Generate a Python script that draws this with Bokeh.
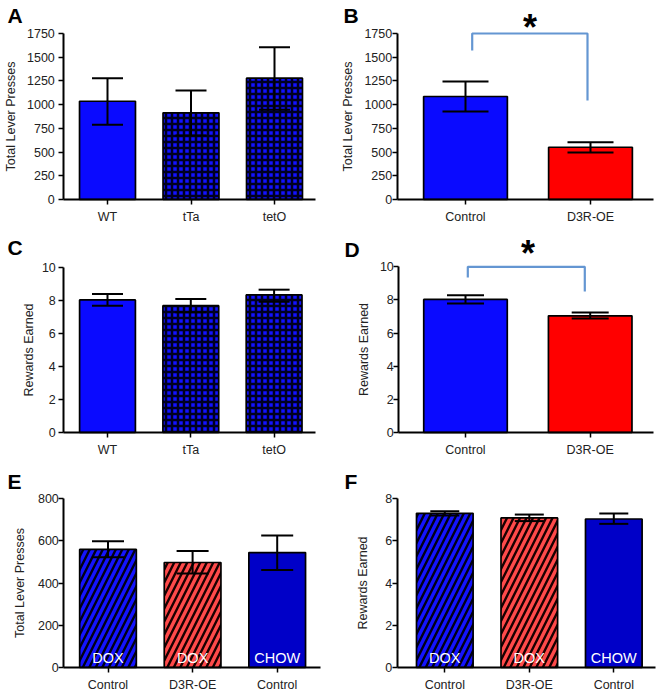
from bokeh.plotting import figure
from bokeh.models import ColumnDataSource, Whisker, TeeHead, Label, Range1d, FixedTicker
from bokeh.layouts import column, row
from bokeh.embed import file_html
from bokeh.resources import INLINE
from bokeh.core.properties import value

FONT = "Liberation Sans"

# ---------------- data ----------------
a_groups = ["WT", "tTa", "tetO"]
a_means = [1036, 914, 1279]
a_upper = [1279, 1149, 1606]
a_lower = [787, 675, 945]
a_yticks = [0, 250, 500, 750, 1000, 1250, 1500, 1750]

b_groups = ["Control", "D3R-OE"]
b_means = [1086, 551]
b_upper = [1244, 604]
b_lower = [928, 495]
b_yticks = [0, 250, 500, 750, 1000, 1250, 1500, 1750]
b_bracket_legs = [1571, 1044]   # bottom of left / right bracket legs
b_bracket_top = 1750

c_groups = ["WT", "tTa", "tetO"]
c_means = [8.02, 7.67, 8.32]
c_upper = [8.38, 8.08, 8.64]
c_lower = [7.67, 7.27, 7.91]
c_yticks = [0, 2, 4, 6, 8, 10]

d_groups = ["Control", "D3R-OE"]
d_means = [8.03, 7.04]
d_upper = [8.29, 7.24]
d_lower = [7.79, 6.88]
d_yticks = [0, 2, 4, 6, 8, 10]
d_bracket_legs = [9.35, 8.51]
d_bracket_top = 10

e_groups = ["Control", "D3R-OE", "Control"]
e_diet = ["DOX", "DOX", "CHOW"]
e_means = [559, 497, 544]
e_upper = [598, 552, 625]
e_lower = [522, 445, 462]
e_yticks = [0, 200, 400, 600, 800]

f_groups = ["Control", "D3R-OE", "Control"]
f_diet = ["DOX", "DOX", "CHOW"]
f_means = [7.30, 7.08, 7.03]
f_upper = [7.40, 7.24, 7.29]
f_lower = [7.19, 6.93, 6.80]
f_yticks = [0, 2, 4, 6, 8]

# ---------------- styles ----------------
BLUE = "#0a0aff"
RED = "#ff0000"
DOX_BLUE = "#1414ff"
DOX_RED = "#ff4a4a"
CHOW = "#0000c8"
BRACKET = "#6496d2"

style_plain_blue = dict(fill=BLUE, hatch=" ", hcol="black", hscale=6, hweight=1)
style_check = dict(fill="#1212ff", hatch="+", hcol="#000020", hscale=6, hweight=2.5)
style_red = dict(fill=RED, hatch=" ", hcol="black", hscale=6, hweight=1)
style_dox_blue = dict(fill=DOX_BLUE, hatch="/", hcol="#000018", hscale=13, hweight=2.4)
style_dox_red = dict(fill=DOX_RED, hatch="/", hcol="#1a0000", hscale=13, hweight=2.4)
style_chow = dict(fill=CHOW, hatch=" ", hcol="black", hscale=6, hweight=1)

# ---------------- geometry (pixels on the page) ----------------
GA = dict(canvas=(0, 0, 330, 230), yaxis=63.3, xend=315, zero=199, ytop=33, c0=107, sp=83.5,
          letter=(7, 14.5), cap=31, lstand=4, astand=6)
GB = dict(canvas=(330, 0, 333, 230), yaxis=396.7, xend=653.3, zero=199, ytop=33, c0=465, sp=125,
          letter=(343, 14.5), cap=46, lstand=0, astand=7,
          bracket_x=(471.7, 587), star=(529.5, 19))
GC = dict(canvas=(0, 230, 330, 230), yaxis=63.3, xend=315, zero=432, ytop=266.7, c0=107, sp=83.3,
          letter=(7, 246.7), cap=31, lstand=3, astand=3)
GD = dict(canvas=(330, 230, 333, 230), yaxis=398.3, xend=652.7, zero=432, ytop=266.3, c0=465,
          sp=124.7, letter=(344, 249), cap=37, lstand=0, astand=6,
          bracket_x=(467.3, 584.3), star=(527.5, 245.5))
GE = dict(canvas=(0, 460, 330, 234), yaxis=63.3, xend=320, zero=667, ytop=498, c0=107.5, sp=84.6,
          letter=(7, 480.8), cap=32, lstand=0, astand=8)
GF = dict(canvas=(330, 460, 333, 234), yaxis=396.7, xend=655, zero=667, ytop=498, c0=444.3,
          sp=84.5, letter=(344, 480.8), cap=29, lstand=0, astand=13)


def panel(letter, groups, means, upper, lower, ymax, yticks, ylabel, styles, g,
          diet=None, bracket=None):
    n = len(groups)
    idx = list(range(n))
    x0, y0, w, h = g["canvas"]
    zero = g["zero"]
    ypp = ymax / (zero - g["ytop"])

    def tx(px):
        return (px - g["c0"]) / g["sp"]

    def ty(py):
        return (zero - py) * ypp

    p = figure(width=w, height=h, output_backend="svg", toolbar_location=None,
               x_range=Range1d(tx(x0), tx(x0 + w)), y_range=Range1d(ty(y0 + h), ty(y0)),
               min_border=0, min_border_left=0, min_border_right=0, min_border_top=0,
               min_border_bottom=0)
    p.outline_line_color = None
    p.grid.visible = False
    p.background_fill_color = "white"
    p.border_fill_color = "white"

    src = ColumnDataSource(dict(
        x=idx, top=means, upper=upper, lower=lower,
        fill=[s["fill"] for s in styles], hatch=[s["hatch"] for s in styles],
        hcol=[s["hcol"] for s in styles], hscale=[s["hscale"] for s in styles],
        hweight=[s["hweight"] for s in styles]))
    p.vbar(x="x", top="top", bottom=0, width=0.67, source=src,
           fill_color="fill", line_color="black", line_width=1.7,
           hatch_pattern="hatch", hatch_color="hcol", hatch_scale="hscale",
           hatch_weight="hweight")

    if diet is not None:
        p.text(x=idx, y=[0] * n, text=diet, text_color="white", text_align="center",
               text_baseline="alphabetic", y_offset=-10,
               text_font=value(FONT), text_font_size="14.5px")

    w_ = Whisker(source=src, base="x", upper="upper", lower="lower",
                 line_color="black", line_width=2, level="overlay")
    w_.upper_head = TeeHead(size=g["cap"], line_width=2, line_color="black")
    w_.lower_head = TeeHead(size=g["cap"], line_width=2, line_color="black")
    p.add_layout(w_)

    if bracket is not None:
        legs, top = bracket
        xl, xr = tx(g["bracket_x"][0]), tx(g["bracket_x"][1])
        p.line(x=[xl, xl, xr, xr], y=[legs[0], top, top, legs[1]],
               line_color=BRACKET, line_width=2.2)
        sx, sy = g["star"]
        p.add_layout(Label(x=tx(sx), y=ty(sy + 7.5), text="*", text_align="center",
                           text_baseline="middle", text_font=FONT, text_font_size="36px",
                           text_font_style="bold", text_color="black"))

    lx, ly = g["letter"]
    p.add_layout(Label(x=tx(lx), y=ty(ly), text=letter, text_align="left",
                       text_baseline="middle", text_font=FONT, text_font_size="21px",
                       text_font_style="bold", text_color="black"))

    for ax in (p.xaxis[0], p.yaxis[0]):
        ax.axis_line_width = 2
        ax.axis_line_color = "black"
        ax.major_tick_line_width = 1.5
        ax.major_tick_line_color = "black"
        ax.major_tick_out = 5
        ax.major_tick_in = 0
        ax.minor_tick_in = 0
        ax.minor_tick_out = 0
        ax.major_label_text_font = FONT
        ax.major_label_text_font_size = "12.5px"
        ax.major_label_text_color = "#222222"
    p.yaxis.fixed_location = tx(g["yaxis"])
    p.yaxis.ticker = FixedTicker(ticks=yticks)
    p.yaxis.bounds = (0, ymax)
    p.yaxis.axis_label = ylabel
    p.yaxis.axis_label_text_font = FONT
    p.yaxis.axis_label_text_font_size = "12.5px"
    p.yaxis.axis_label_text_font_style = "normal"
    p.yaxis.axis_label_text_color = "#222222"
    p.yaxis.axis_label_standoff = g["astand"]
    p.yaxis.major_label_standoff = g["lstand"]
    p.xaxis.fixed_location = 0
    p.xaxis.ticker = FixedTicker(ticks=idx)
    p.xaxis.bounds = (tx(g["yaxis"]), tx(g["xend"]))
    p.xaxis.major_label_overrides = {i: grp for i, grp in enumerate(groups)}
    p.xaxis.major_label_standoff = 5
    return p


pA = panel("A", a_groups, a_means, a_upper, a_lower, 1750, a_yticks, "Total Lever Presses",
           [style_plain_blue, style_check, style_check], GA)
pB = panel("B", b_groups, b_means, b_upper, b_lower, 1750, b_yticks, "Total Lever Presses",
           [style_plain_blue, style_red], GB, bracket=(b_bracket_legs, b_bracket_top))
pC = panel("C", c_groups, c_means, c_upper, c_lower, 10, c_yticks, "Rewards Earned",
           [style_plain_blue, style_check, style_check], GC)
pD = panel("D", d_groups, d_means, d_upper, d_lower, 10, d_yticks, "Rewards Earned",
           [style_plain_blue, style_red], GD, bracket=(d_bracket_legs, d_bracket_top))
pE = panel("E", e_groups, e_means, e_upper, e_lower, 800, e_yticks, "Total Lever Presses",
           [style_dox_blue, style_dox_red, style_chow], GE, diet=e_diet)
pF = panel("F", f_groups, f_means, f_upper, f_lower, 8, f_yticks, "Rewards Earned",
           [style_dox_blue, style_dox_red, style_chow], GF, diet=f_diet)

layout = column(row(pA, pB), row(pC, pD), row(pE, pF))
open("out.html", "w").write(file_html(layout, INLINE))
